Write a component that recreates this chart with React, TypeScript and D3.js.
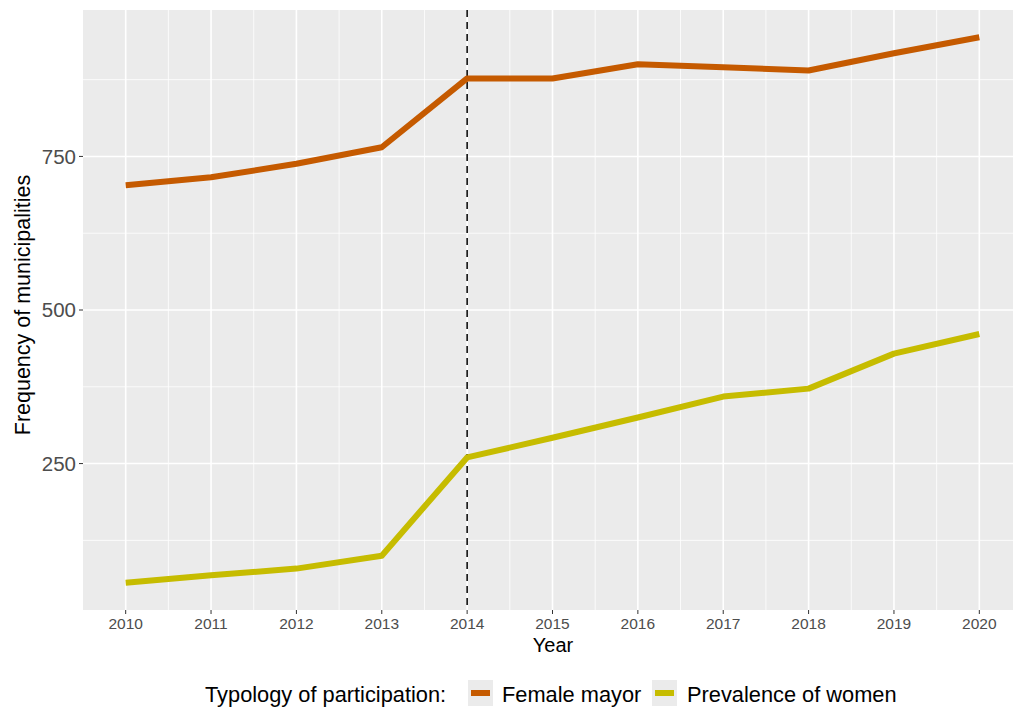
import React from 'react';
import * as d3 from 'd3';

const years = [2010, 2011, 2012, 2013, 2014, 2015, 2016, 2017, 2018, 2019, 2020];
const femaleMayor = [703, 716, 738, 765, 877, 877, 900, 895, 890, 918, 944];
const prevalenceWomen = [56, 68, 79, 100, 260, 292, 325, 359, 372, 429, 461];
const yTicks = [250, 500, 750];
const yMinor = [125, 375, 625, 875];
const seriesNames = ['Female mayor', 'Prevalence of women'];
const seriesColors = ['#c55a00', '#c6bc00'];

const W = 1013;
const H = 708;
const panel = { left: 83, top: 10, right: 1022, bottom: 610 };

const App: React.FC = () => {
    const x = d3.scaleLinear().domain([2009.5, 2020.5]).range([panel.left, panel.right]);
    const allVals = femaleMayor.concat(prevalenceWomen);
    const lo = d3.min(allVals) as number;
    const hi = d3.max(allVals) as number;
    const pad = (hi - lo) * 0.05;
    const y = d3.scaleLinear().domain([lo - pad, hi + pad]).range([panel.bottom, panel.top]);

    const line = d3.line<number>()
        .x((_, i) => x(years[i]))
        .y(d => y(d));

    const xMinor = years.slice(0, -1).map(v => v + 0.5);
    const font = 'Liberation Sans, Arial, sans-serif';

    // legend keys, laid out left to right
    const keys = [
        { rx: 468, tx: 502 },
        { rx: 652, tx: 687 },
    ];

    return (
        <svg width={W} height={H} style={{ position: 'absolute', left: 0, top: 0, background: '#fff' }}>
            <defs>
                <clipPath id="pclip">
                    <rect x={panel.left} y={panel.top} width={panel.right - panel.left} height={panel.bottom - panel.top} />
                </clipPath>
            </defs>
            <rect x={panel.left} y={panel.top} width={panel.right - panel.left} height={panel.bottom - panel.top} fill="#ebebeb" />
            <g clipPath="url(#pclip)">
                {yMinor.map(v => (
                    <line key={'ym' + v} x1={panel.left} x2={panel.right} y1={y(v)} y2={y(v)} stroke="#fff" strokeWidth={0.8} />
                ))}
                {xMinor.map(v => (
                    <line key={'xm' + v} x1={x(v)} x2={x(v)} y1={panel.top} y2={panel.bottom} stroke="#fff" strokeWidth={0.8} />
                ))}
                {yTicks.map(v => (
                    <line key={'yt' + v} x1={panel.left} x2={panel.right} y1={y(v)} y2={y(v)} stroke="#fff" strokeWidth={1.6} />
                ))}
                {years.map(v => (
                    <line key={'xt' + v} x1={x(v)} x2={x(v)} y1={panel.top} y2={panel.bottom} stroke="#fff" strokeWidth={1.6} />
                ))}
                <line x1={x(2014)} x2={x(2014)} y1={panel.top} y2={panel.bottom} stroke="#000" strokeWidth={1.5} strokeDasharray="7,5" />
                {[femaleMayor, prevalenceWomen].map((s, i) => (
                    <path key={seriesNames[i]} d={line(s) || ''} fill="none" stroke={seriesColors[i]} strokeWidth={6} strokeLinejoin="round" />
                ))}
            </g>
            {yTicks.map(v => (
                <g key={'yl' + v}>
                    <line x1={panel.left - 4} x2={panel.left} y1={y(v)} y2={y(v)} stroke="#333" strokeWidth={1} />
                    <text x={panel.left - 7} y={y(v)} dy="0.36em" textAnchor="end" fontFamily={font} fontSize={20.5} fill="#4d4d4d">{v}</text>
                </g>
            ))}
            {years.map(v => (
                <g key={'xl' + v}>
                    <line x1={x(v)} x2={x(v)} y1={panel.bottom} y2={panel.bottom + 4} stroke="#333" strokeWidth={1} />
                    <text x={x(v)} y={629} textAnchor="middle" fontFamily={font} fontSize={15.5} fill="#4d4d4d">{v}</text>
                </g>
            ))}
            <text x={553} y={652} textAnchor="middle" fontFamily={font} fontSize={20} fill="#000">Year</text>
            <text transform={`translate(30,305) rotate(-90)`} textAnchor="middle" fontFamily={font} fontSize={21.5} fill="#000">Frequency of municipalities</text>

            <g fontFamily={font} fontSize={21.8} fill="#000">
                <text x={205} y={702}>Typology of participation:</text>
                {keys.map((k, i) => (
                    <g key={'lg' + i}>
                        <rect x={k.rx} y={680} width={25} height={26} fill="#ebebeb" />
                        <line x1={k.rx + 3} x2={k.rx + 22} y1={693} y2={693} stroke={seriesColors[i]} strokeWidth={6} />
                        <text x={k.tx} y={702}>{seriesNames[i]}</text>
                    </g>
                ))}
            </g>
        </svg>
    );
};

export default App;
